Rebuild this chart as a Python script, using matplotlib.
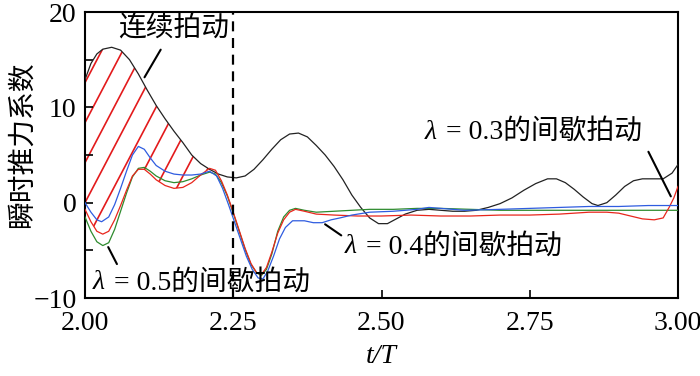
import matplotlib
matplotlib.use('Agg')
import matplotlib.pyplot as plt
from matplotlib.ticker import MultipleLocator
import numpy as np

plt.rcParams['font.family'] = ['Liberation Serif', 'Noto Sans CJK SC']
plt.rcParams['axes.unicode_minus'] = True

# continuous flapping (black)
t_cont = [2.000, 2.010, 2.020, 2.030, 2.045, 2.060, 2.075, 2.090, 2.105, 2.120,
          2.135, 2.150, 2.165, 2.180, 2.195, 2.210, 2.225, 2.240, 2.255, 2.270,
          2.285, 2.300, 2.315, 2.330, 2.345, 2.360, 2.375, 2.390, 2.405, 2.420,
          2.435, 2.450, 2.465, 2.480, 2.495, 2.510, 2.525, 2.540, 2.560, 2.580,
          2.600, 2.620, 2.640, 2.660, 2.680, 2.700, 2.720, 2.740, 2.760, 2.780,
          2.795, 2.810, 2.825, 2.840, 2.855, 2.865, 2.880, 2.895, 2.910, 2.925,
          2.940, 2.960, 2.975, 2.990, 3.000]
c_cont = [12.9, 14.6, 15.6, 16.1, 16.3, 16.0, 15.0, 13.5, 11.8, 10.2,
          8.8, 7.5, 6.3, 5.0, 4.1, 3.5, 3.0, 2.7, 2.6, 2.8,
          3.5, 4.5, 5.6, 6.6, 7.2, 7.3, 6.9, 6.0, 5.0, 3.8,
          2.4, 0.8, -0.5, -1.6, -2.2, -2.2, -1.7, -1.2, -0.8, -0.7,
          -0.8, -0.9, -0.9, -0.8, -0.5, -0.1, 0.5, 1.3, 2.0, 2.5,
          2.5, 2.1, 1.4, 0.6, -0.1, -0.3, 0.0, 0.8, 1.7, 2.3,
          2.5, 2.5, 2.5, 3.1, 4.0]

# lambda = 0.3 (red)
t_03 = [2.000, 2.010, 2.020, 2.030, 2.040, 2.050, 2.060, 2.070, 2.080, 2.090,
        2.100, 2.110, 2.120, 2.135, 2.150, 2.165, 2.180, 2.195, 2.210, 2.220,
        2.230, 2.240, 2.250, 2.260, 2.270, 2.280, 2.290, 2.298, 2.306, 2.315,
        2.325, 2.335, 2.345, 2.355, 2.370, 2.390, 2.420, 2.460, 2.500, 2.550,
        2.600, 2.650, 2.700, 2.750, 2.800, 2.850, 2.880, 2.900, 2.920, 2.940,
        2.960, 2.975, 2.985, 2.993, 3.000]
c_03 = [-0.7, -2.0, -3.0, -3.3, -3.0, -1.8, -0.3, 1.3, 2.8, 3.5,
        3.5, 3.0, 2.4, 1.8, 1.5, 1.6, 2.1, 2.9, 3.6, 3.4,
        2.3, 0.8, -1.0, -2.9, -4.8, -6.4, -7.4, -7.5, -6.8, -5.2,
        -3.2, -1.8, -1.0, -0.7, -0.9, -1.2, -1.3, -1.4, -1.4, -1.3,
        -1.4, -1.4, -1.3, -1.3, -1.2, -1.0, -1.0, -1.1, -1.4, -1.7,
        -1.8, -1.6, -0.5, 0.5, 1.7]

# lambda = 0.4 (blue)
t_04 = [2.000, 2.010, 2.020, 2.028, 2.040, 2.050, 2.060, 2.070, 2.080, 2.090,
        2.100, 2.110, 2.120, 2.135, 2.150, 2.165, 2.180, 2.195, 2.210, 2.222,
        2.232, 2.242, 2.252, 2.262, 2.272, 2.282, 2.292, 2.300, 2.308, 2.318,
        2.328, 2.338, 2.350, 2.370, 2.385, 2.400, 2.415, 2.430, 2.450, 2.480,
        2.520, 2.560, 2.580, 2.600, 2.640, 2.700, 2.750, 2.800, 2.850, 2.900,
        2.950, 3.000]
c_04 = [0.0, -1.0, -1.8, -2.0, -1.5, -0.2, 1.5, 3.3, 5.0, 5.9,
        5.6, 4.7, 3.9, 3.3, 3.0, 2.9, 2.9, 3.0, 3.3, 2.8,
        1.5, -0.2, -2.0, -3.8, -5.6, -7.0, -7.9, -8.0, -7.2, -5.6,
        -3.8, -2.6, -1.9, -1.9, -2.1, -2.1, -1.8, -1.6, -1.3, -1.0,
        -0.9, -0.7, -0.5, -0.6, -0.8, -0.7, -0.6, -0.5, -0.4, -0.4,
        -0.3, -0.3]

# lambda = 0.5 (green)
t_05 = [2.000, 2.010, 2.020, 2.030, 2.040, 2.050, 2.060, 2.070, 2.080, 2.090,
        2.100, 2.110, 2.120, 2.135, 2.150, 2.165, 2.180, 2.195, 2.210, 2.220,
        2.230, 2.240, 2.250, 2.260, 2.270, 2.280, 2.290, 2.298, 2.306, 2.315,
        2.325, 2.335, 2.345, 2.355, 2.370, 2.390, 2.420, 2.450, 2.480, 2.520,
        2.560, 2.600, 2.650, 2.700, 2.750, 2.800, 2.850, 2.900, 2.950, 3.000]
c_05 = [-1.5, -3.0, -4.1, -4.5, -4.2, -2.8, -0.9, 1.0, 2.7, 3.6,
        3.7, 3.3, 2.8, 2.3, 2.1, 2.2, 2.5, 2.9, 3.2, 3.0,
        2.1, 0.7, -1.1, -3.0, -4.9, -6.5, -7.4, -7.6, -7.0, -5.4,
        -3.0, -1.5, -0.8, -0.6, -0.8, -1.0, -0.9, -0.8, -0.7, -0.7,
        -0.6, -0.6, -0.7, -0.8, -0.8, -0.8, -0.8, -0.8, -0.8, -0.8]

x_ticks = [2.00, 2.25, 2.50, 2.75, 3.00]
x_ticklabels = ['2.00', '2.25', '2.50', '2.75', '3.00']
y_ticks = [-10, 0, 10, 20]

fig = plt.figure(figsize=(7, 3.76), dpi=100)
ax = fig.add_axes([85 / 700, 78 / 376, 593 / 700, 286 / 376])

# hatched region between continuous flapping and lambda=0.3 curve
t_end = 2.21
tc = np.array(t_cont); cc = np.array(c_cont)
tr = np.array(t_03); cr = np.array(c_03)
poly_t = np.concatenate([tc[tc <= t_end], tr[tr <= t_end][::-1]])
poly_c = np.concatenate([cc[tc <= t_end], cr[tr <= t_end][::-1]])
region = ax.fill(poly_t, poly_c, facecolor='none', edgecolor='none')[0]

slope = 118.6
for c0 in 2.0 + 0.0354 * np.arange(-6, 8):
    hx = np.array([c0 - 0.2, c0 + 0.3])
    ln, = ax.plot(hx, slope * (hx - c0), color='#e31a1c', lw=1.2, zorder=1)
    ln.set_clip_path(region)

ax.plot(t_cont, c_cont, color='#222222', lw=0.9, zorder=3)
ax.plot(t_05, c_05, color='#2e8b2e', lw=0.9, zorder=3)
ax.plot(t_03, c_03, color='#e8261c', lw=0.9, zorder=3)
ax.plot(t_04, c_04, color='#2f5ce0', lw=0.9, zorder=3)

ax.axvline(2.25, color='k', lw=1.6, ls=(0, (4.5, 3)), zorder=4)

ax.set_xlim(2.0, 3.0)
ax.set_ylim(-10, 20)
ax.set_xticks(x_ticks)
ax.set_xticklabels(x_ticklabels)
ax.set_yticks(y_ticks)
ax.yaxis.set_minor_locator(MultipleLocator(5))
ax.tick_params(which='both', direction='in', length=6, width=1.2,
               labelsize=20, top=False, right=False)
ax.tick_params(axis='x', pad=9)
ax.tick_params(axis='y', pad=6)
for s in ax.spines.values():
    s.set_linewidth(1.5)

ax.set_xlabel('t/T', fontsize=20, style='italic', labelpad=6)
ax.set_ylabel('瞬时推力系数', fontsize=20)
ax.yaxis.set_label_coords(-0.084, 0.535)

# annotations
ax.text(2.150, 18.2, '连续拍动', fontsize=20, ha='center', va='center')
ax.annotate('', xy=(2.098, 12.9), xytext=(2.130, 16.3),
            arrowprops=dict(arrowstyle='-', lw=1.5, color='k'))

labels = [('0.5', 2.0135, -8.4, (2.037, -4.4), (2.056, -6.7)),
          ('0.4', 2.438, -4.6, (2.401, -2.1), (2.436, -3.6)),
          ('0.3', 2.573, 7.4, (2.990, 0.4), (2.948, 5.6))]
for lam, tx, ty, p_curve, p_text in labels:
    ax.text(tx, ty, 'λ', fontsize=20, style='italic', ha='left', va='center')
    ax.annotate(' = ' + lam + '的间歇拍动', xy=(tx, ty), xytext=(10, 0),
                textcoords='offset points', fontsize=20, ha='left', va='center')
    ax.annotate('', xy=p_curve, xytext=p_text,
                arrowprops=dict(arrowstyle='-', lw=1.5, color='k'))

fig.savefig('out.png', dpi=100)
